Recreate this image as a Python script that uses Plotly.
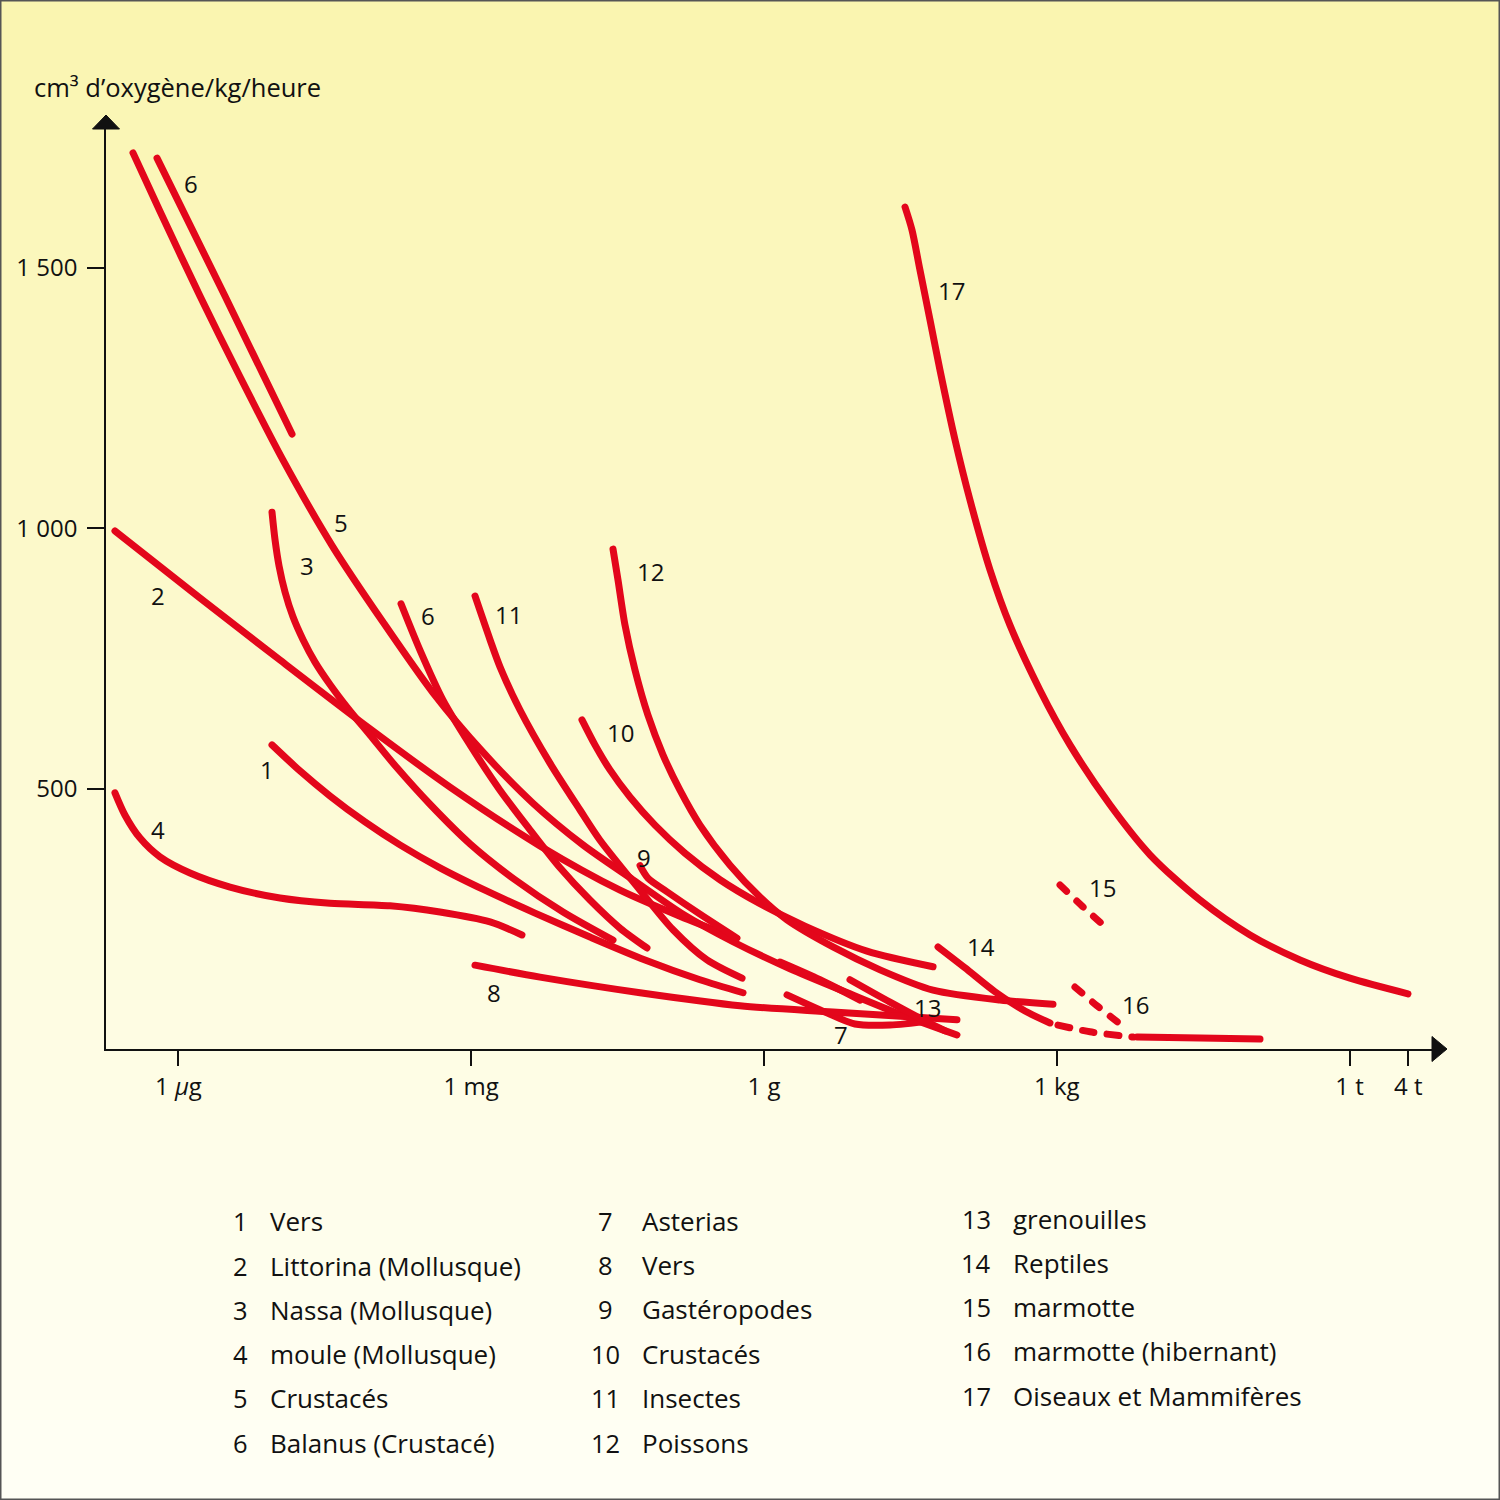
import plotly.graph_objects as go

# ---------------- data ----------------
# x : log10 of body mass in grams ; y : cm3 of oxygen / kg / hour
c1_x = [-5.041, -4.754, -4.447, -4.088, -3.730, -3.320, -2.859, -2.346, -1.783, -1.219, -0.656, -0.215]
c1_y = [584, 534, 486, 436, 392, 348, 305, 261, 215, 171, 133, 108]

c2_x = [-6.650, -5.779, -4.959, -4.037, -3.217, -2.295, -1.475, -0.861, -0.318]
c2_y = [995, 866, 747, 615, 503, 390, 305, 255, 215]

c3_x = [-5.041, -5.010, -4.969, -4.908, -4.826, -4.723, -4.600, -4.447, -4.262, -4.037,
        -3.760, -3.422, -3.012, -2.551, -2.059, -1.547]
c3_y = [1031, 978, 928, 878, 830, 786, 743, 700, 654, 603,
        540, 470, 394, 325, 263, 209]

c4_x = [-6.650, -6.547, -6.393, -6.189, -5.881, -5.471, -4.959, -4.447, -3.832, -3.320, -2.807, -2.480]
c4_y = [492, 449, 405, 369, 338, 311, 290, 280, 275, 263, 244, 219]

c5_x = [-6.465, -6.189, -5.779, -5.369, -4.928, -4.416, -3.904, -3.391, -2.879, -2.367,
        -1.855, -1.342, -0.830, -0.318, 0.266, 0.881, 1.393, 1.977]
c5_y = [1721, 1609, 1446, 1291, 1131, 964, 820, 684, 570, 472,
        392, 325, 259, 206, 154, 106, 67, 27]

c6a_x = [-6.219, -5.523, -4.836]
c6a_y = [1711, 1446, 1181]

c6b_x = [-3.719, -3.525, -3.289, -3.012, -2.705, -2.398, -2.090, -1.783, -1.475, -1.199]
c6b_y = [855, 766, 670, 584, 497, 421, 348, 286, 232, 194]

c7a_x = [0.164, 0.574, 0.984]
c7a_y = [167, 133, 94]
c7b_x = [0.236, 0.625, 0.932, 1.291, 1.701]
c7b_y = [104, 71, 48, 46, 54]

c8_x = [-2.961, -2.295, -1.270, -0.246, 0.707, 1.977]
c8_y = [161, 138, 108, 83, 71, 56]

c9_x = [-1.270, -1.189, -0.994, -0.656, -0.277]
c9_y = [352, 328, 302, 259, 213]

c10_x = [-1.865, -1.732, -1.578, -1.373, -1.117, -0.809, -0.451, -0.041, 0.420, 1.055, 1.732]
c10_y = [632, 584, 536, 484, 430, 376, 325, 279, 236, 188, 158]

c11_x = [-2.961, -2.807, -2.705, -2.500, -2.193, -1.885, -1.680, -1.270, -0.932, -0.584, -0.225]
c11_y = [870, 786, 734, 651, 549, 459, 401, 305, 229, 171, 136]

c12_x = [-1.547, -1.496, -1.424, -1.322, -1.189, -1.035, -0.861, -0.656, -0.348, -0.041,
         0.236, 0.707, 1.189, 1.732, 2.418, 2.961]
c12_y = [960, 901, 814, 728, 641, 565, 497, 430, 353, 292,
         248, 196, 152, 113, 94, 86]

c13_x = [0.881, 1.291, 1.670, 1.855]
c13_y = [133, 90, 52, 35]

c14_x = [1.783, 2.059, 2.367, 2.674, 2.930]
c14_y = [196, 156, 110, 73, 50]
c14_ext_x = [3.012, 3.340, 3.781]          # dashed part
c14_ext_y = [46, 33, 23]
c14_tail_x = [3.822, 4.467, 5.082]
c14_tail_y = [23, 21, 19]

c15_x = [3.033, 3.268, 3.514]               # dashed
c15_y = [315, 273, 232]

c16_x = [3.186, 3.412, 3.648]               # dashed
c16_y = [119, 83, 48]

c17_x = [1.445, 1.516, 1.598, 1.701, 1.803, 1.957, 2.111, 2.316, 2.520, 2.828,
         3.135, 3.545, 3.955, 4.467, 4.980, 5.492, 6.004, 6.598]
c17_y = [1617, 1573, 1496, 1400, 1304, 1170, 1054, 920, 814, 689,
         584, 469, 373, 286, 219, 171, 136, 106]

# curve number labels
lab_text = ["6", "17", "5", "3", "2", "6", "11", "12", "10", "1", "4", "9",
            "15", "14", "8", "16", "13", "7"]
lab_x = [-5.871, 1.916, -4.334, -4.682, -6.209, -3.443, -2.623, -1.168, -1.475, -5.092,
         -6.209, -1.230, 3.473, 2.223, -2.766, 3.811, 1.680, 0.789]
lab_y = [1663, 1456, 1012, 928, 870, 832, 834, 918, 607, 536,
         421, 367, 311, 196, 108, 86, 79, 27]

# axis ticks
x_tickvals = [-6, -3, 0, 3, 6, 6.602]
x_ticktext = ["1 <i>µ</i>g", "1 mg", "1 g", "1 kg", "1 t", "4 t"]
y_tickvals = [500, 1000, 1500]
y_ticktext = ["500", "1 000", "1 500"]

# key
key_nums = [str(i) for i in range(1, 18)]
key_names = ["Vers", "Littorina (Mollusque)", "Nassa (Mollusque)", "moule (Mollusque)",
             "Crustacés", "Balanus (Crustacé)", "Asterias", "Vers", "Gastéropodes",
             "Crustacés", "Insectes", "Poissons", "grenouilles", "Reptiles", "marmotte",
             "marmotte (hibernant)", "Oiseaux et Mammifères"]

y_title = "cm³ d’oxygène/kg/heure"

# ---------------- styling / layout ----------------
RED = "#E3061B"
FONT = "Open Sans"
INK = "#111111"
L, R, T, B = 106, 1445, 116, 1049
W, H = R - L, B - T


def pxx(px):
    return (px - L) / W


def pxy(py):
    return (B - py) / H


fig = go.Figure()

series = [
    (c1_x, c1_y, "solid"), (c2_x, c2_y, "solid"), (c3_x, c3_y, "solid"),
    (c4_x, c4_y, "solid"), (c5_x, c5_y, "solid"), (c6a_x, c6a_y, "solid"),
    (c6b_x, c6b_y, "solid"), (c7a_x, c7a_y, "solid"), (c7b_x, c7b_y, "solid"),
    (c8_x, c8_y, "solid"), (c9_x, c9_y, "solid"), (c10_x, c10_y, "solid"),
    (c11_x, c11_y, "solid"), (c12_x, c12_y, "solid"), (c13_x, c13_y, "solid"),
    (c14_x, c14_y, "solid"), (c14_ext_x, c14_ext_y, "dashA"), (c14_tail_x, c14_tail_y, "solid"),
    (c15_x, c15_y, "dashB"), (c16_x, c16_y, "dashB"), (c17_x, c17_y, "solid"),
]
dash_styles = {"solid": "solid", "dashA": "12px,13px", "dashB": "9px,14px"}
for xs, ys, d in series:
    fig.add_trace(go.Scatter(
        x=xs, y=ys, mode="lines", hoverinfo="skip", showlegend=False,
        line=dict(color=RED, width=7, shape="spline", smoothing=0.8, dash=dash_styles[d]),
    ))

# background gradient
shapes = []
stops = [(0.0, (250, 245, 176)), (0.4, (252, 249, 204)), (0.75, (254, 253, 232)), (1.0, (255, 255, 245))]


def grad(t):
    for (t0, c0), (t1, c1) in zip(stops[:-1], stops[1:]):
        if t <= t1:
            f = (t - t0) / (t1 - t0)
            return "rgb(%d,%d,%d)" % tuple(round(a + (b - a) * f) for a, b in zip(c0, c1))
    return "rgb(%d,%d,%d)" % stops[-1][1]


nb = 75
for i in range(nb):
    py0 = i * 1500 / nb
    py1 = (i + 1) * 1500 / nb + 1
    shapes.append(dict(type="rect", xref="paper", yref="paper", layer="below",
                       x0=pxx(-2), x1=pxx(1502), y0=pxy(py1), y1=pxy(py0),
                       fillcolor=grad((py0 + 10) / 1500), line=dict(width=0)))
# frame
shapes.append(dict(type="rect", xref="paper", yref="paper", layer="above",
                   x0=pxx(0.75), x1=pxx(1499.25), y0=pxy(1499.25), y1=pxy(0.75),
                   line=dict(color="#555555", width=1.5), fillcolor="rgba(0,0,0,0)"))
# arrow heads
shapes.append(dict(type="path", xref="paper", yref="paper", xsizemode="pixel", ysizemode="pixel",
                   xanchor=0, yanchor=1, path="M-13.5,-13 L0,1 L13.5,-13 Z",
                   fillcolor=INK, line=dict(color=INK, width=1)))
shapes.append(dict(type="path", xref="paper", yref="paper", xsizemode="pixel", ysizemode="pixel",
                   xanchor=1, yanchor=0, path="M-13,12.5 L2,0 L-13,-12.5 Z",
                   fillcolor=INK, line=dict(color=INK, width=1)))

annotations = []
for t, x, y in zip(lab_text, lab_x, lab_y):
    annotations.append(dict(x=x, y=y, xref="x", yref="y", text=t, showarrow=False,
                            xanchor="center", yanchor="middle",
                            font=dict(family=FONT, size=24, color=INK)))

annotations.append(dict(x=pxx(32), y=pxy(87), xref="paper", yref="paper", text=y_title,
                        showarrow=False, xanchor="left", yanchor="middle",
                        font=dict(family=FONT, size=25.5, color=INK)))

col_num_x = [240, 605, 976]
col_txt_x = [268, 640, 1011]
col_rows = [[1221, 1266, 1310, 1354, 1398, 1443],
            [1221, 1265, 1309, 1354, 1398, 1443],
            [1219, 1263, 1307, 1351, 1396]]
k = 0
for c in range(3):
    for ry in col_rows[c]:
        annotations.append(dict(x=pxx(col_num_x[c]), y=pxy(ry), xref="paper", yref="paper",
                                text=key_nums[k], showarrow=False, xanchor="center", yanchor="middle",
                                font=dict(family=FONT, size=25.5, color=INK)))
        annotations.append(dict(x=pxx(col_txt_x[c]), y=pxy(ry), xref="paper", yref="paper",
                                text=key_names[k], showarrow=False, xanchor="left", yanchor="middle",
                                font=dict(family=FONT, size=26, color=INK)))
        k += 1

fig.update_layout(
    width=1500, height=1500,
    margin=dict(l=L, r=1500 - R, t=T, b=1500 - B, pad=0),
    paper_bgcolor="#FFFEF5", plot_bgcolor="rgba(0,0,0,0)",
    shapes=shapes, annotations=annotations, showlegend=False,
    xaxis=dict(range=[(L - 764) / 97.6, (R - 764) / 97.6], showgrid=False, zeroline=False,
               showline=True, linecolor=INK, linewidth=1.5,
               tickmode="array", tickvals=x_tickvals, ticktext=x_ticktext,
               ticks="outside", ticklen=15, tickwidth=1.5, tickcolor=INK,
               ticklabelstandoff=0,
               tickfont=dict(family=FONT, size=24, color=INK)),
    yaxis=dict(range=[0, (B - T) / 0.5207], showgrid=False, zeroline=False,
               showline=True, linecolor=INK, linewidth=1.5,
               tickmode="array", tickvals=y_tickvals, ticktext=y_ticktext,
               ticks="outside", ticklen=17, tickwidth=1.5, tickcolor=INK,
               ticklabelstandoff=5,
               tickfont=dict(family=FONT, size=24, color=INK)),
)

fig.write_html(
    "out.html", config={"displayModeBar": False},
    post_script=("document.body.style.margin='0px';document.body.style.overflow='hidden';"
                 "document.querySelectorAll('.scatterlayer path.js-line').forEach("
                 "function(p){p.style.strokeLinecap='round';p.style.strokeLinejoin='round';});"),
)
